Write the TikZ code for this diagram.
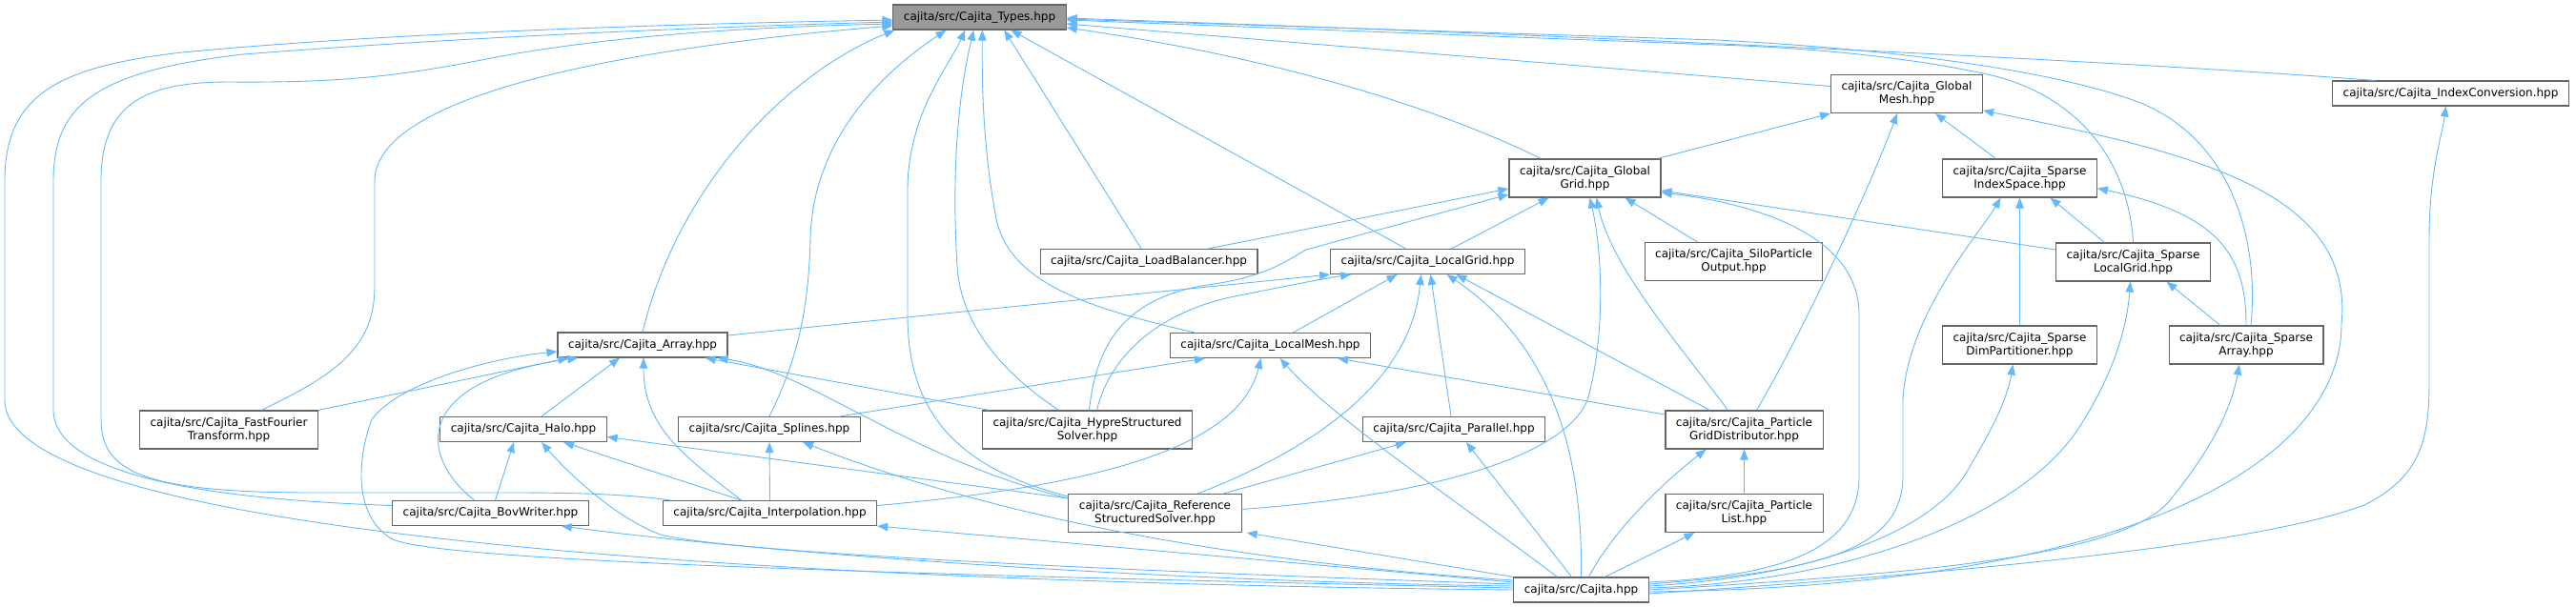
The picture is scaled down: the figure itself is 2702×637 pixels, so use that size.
\documentclass[tikz,border=0pt]{standalone}
\usepackage{fontspec}
\setmainfont{DejaVu Sans}
\usetikzlibrary{arrows.meta}
\definecolor{edgeblue}{HTML}{63B8FF}

\begin{document}
\begin{tikzpicture}[x=1pt, y=-1pt,
  box/.style={draw=black!60, fill=white, line width=1.1pt, font=\fontsize{12}{14}\selectfont,
    inner xsep=11pt, inner ysep=2pt, minimum height=26pt, align=center},
  tbox/.style={box, minimum height=40pt},
  arr/.style={-{Triangle[length=11pt, width=8.5pt]}, draw=edgeblue, line width=0.9pt},
]
  \useasboundingbox (0,0) rectangle (2702,637);

  \node[box, fill=black!40] (types) at (1027.5,18) {cajita/src/Cajita\_Types.hpp};

  \node[tbox] (gmesh) at (2000,98.5) {cajita/src/Cajita\_Global\\Mesh.hpp};
  \node[box] (idxconv) at (2570.5,98) {cajita/src/Cajita\_IndexConversion.hpp};

  \node[tbox] (ggrid) at (1662.5,187) {cajita/src/Cajita\_Global\\Grid.hpp};
  \node[tbox] (spidx) at (2118.5,187) {cajita/src/Cajita\_Sparse\\IndexSpace.hpp};

  \node[box] (lbal) at (1205,274.5) {cajita/src/Cajita\_LoadBalancer.hpp};
  \node[box] (lgrid) at (1497.5,274.5) {cajita/src/Cajita\_LocalGrid.hpp};
  \node[tbox] (silo) at (1818.5,274.5) {cajita/src/Cajita\_SiloParticle\\Output.hpp};
  \node[tbox] (splgrid) at (2237.5,275) {cajita/src/Cajita\_Sparse\\LocalGrid.hpp};

  \node[box] (array) at (674,362) {cajita/src/Cajita\_Array.hpp};
  \node[box] (lmesh) at (1332.5,362.5) {cajita/src/Cajita\_LocalMesh.hpp};
  \node[tbox] (spdim) at (2118.5,362) {cajita/src/Cajita\_Sparse\\DimPartitioner.hpp};
  \node[tbox] (sparray) at (2356,362) {cajita/src/Cajita\_Sparse\\Array.hpp};

  \node[tbox] (fft) at (240,451) {cajita/src/Cajita\_FastFourier\\Transform.hpp};
  \node[box] (halo) at (549,450.5) {cajita/src/Cajita\_Halo.hpp};
  \node[box] (splines) at (807,450.5) {cajita/src/Cajita\_Splines.hpp};
  \node[tbox] (hypre) at (1140.5,451) {cajita/src/Cajita\_HypreStructured\\Solver.hpp};
  \node[box] (parallel) at (1525,450.5) {cajita/src/Cajita\_Parallel.hpp};
  \node[tbox] (pgd) at (1829.5,451) {cajita/src/Cajita\_Particle\\GridDistributor.hpp};

  \node[box] (bov) at (514.5,538.5) {cajita/src/Cajita\_BovWriter.hpp};
  \node[box] (interp) at (807.5,538.5) {cajita/src/Cajita\_Interpolation.hpp};
  \node[tbox] (refsolv) at (1211.5,538.5) {cajita/src/Cajita\_Reference\\StructuredSolver.hpp};
  \node[tbox] (plist) at (1829.5,538.5) {cajita/src/Cajita\_Particle\\List.hpp};

  \node[box] (cajita) at (1658.5,619) {cajita/src/Cajita.hpp};

  \draw[arr] (cajita.west) .. controls (900,612) and (5,570) .. (5,420) -- (5,190) .. controls (5,100) and (60,70) .. (191,55) .. controls (400,35) and (700,25) .. ([yshift=-3]types.west);
  \draw[arr] ([yshift=8]bov.west) .. controls (250,525) and (56,505) .. (56,430) -- (56,190) .. controls (56,110) and (100,75) .. (255,57) .. controls (500,38) and (750,28) .. ([yshift=-5]types.west);
  \draw[arr] ([xshift=8]interp.north west) .. controls (640,516) and (560,517) .. (480,517) -- (320,517) .. controls (150,516) and (106,495) .. (106,440) -- (106,190) .. controls (106,110) and (150,86) .. (240,86) .. controls (360,87) and (420,80) .. (520,60) .. controls (650,36) and (800,28) .. ([yshift=-7]types.west);
  \draw[arr] ([xshift=34]fft.north) .. controls (360,390) and (393,360) .. (393,300) -- (393,190) .. controls (393,110) and (600,55) .. ([yshift=-9]types.west);
  \draw[arr] (array.north) .. controls (710,200) and (820,80) .. ([xshift=2]types.south west);
  \draw[arr] (splines.north) .. controls (835,380) and (848,330) .. (850,250) .. controls (853,130) and (950,60) .. ([xshift=56]types.south west);
  \draw[arr] ([yshift=-3]refsolv.north west) .. controls (1000,490) and (952,430) .. (952,330) -- (952,200) .. controls (952,120) and (995,70) .. ([xshift=76]types.south west);
  \draw[arr] ([xshift=-30]hypre.north) .. controls (1050,390) and (1008,340) .. (1004,280) .. controls (998,180) and (1005,100) .. ([xshift=85]types.south west);
  \draw[arr] ([xshift=26]lmesh.north west) .. controls (1150,325) and (1060,300) .. (1045,230) .. controls (1030,150) and (1030,80) .. ([xshift=94]types.south west);
  \draw[arr] ([xshift=-8]lbal.north) -- ([xshift=117]types.south west);
  \draw[arr] ([xshift=-23]lgrid.north) -- ([xshift=124]types.south west);
  \draw[arr] ([xshift=34]ggrid.north west) .. controls (1480,100) and (1300,55) .. ([yshift=-11]types.east);
  \draw[arr] ([yshift=8]gmesh.west) -- ([yshift=-7]types.east);
  \draw[arr] ([xshift=45]idxconv.north west) .. controls (2200,62) and (1600,35) .. ([yshift=-1]types.east);
  \draw[arr] (splgrid.north) .. controls (2232,160) and (2170,95) .. (2080,77) .. controls (2000,60) and (1900,50) .. (1800,47) -- ([yshift=-3]types.east);
  \draw[arr] ([xshift=5]sparray.north) .. controls (2370,250) and (2340,150) .. (2250,110) .. controls (2190,85) and (2050,55) .. (1800,42) -- ([yshift=-2]types.east);

  \draw[arr] ([xshift=-4]ggrid.north east) -- (gmesh.south west);
  \draw[arr] ([xshift=13]pgd.north) .. controls (1890,350) and (1960,200) .. ([xshift=-10]gmesh.south);
  \draw[arr] ([xshift=-25]spidx.north) -- ([xshift=30]gmesh.south);
  \draw[arr] ([yshift=-2]cajita.east) .. controls (2250,615) and (2456,480) .. (2456,340) .. controls (2470,200) and (2300,160) .. ([yshift=3]gmesh.south east);
  \draw[arr] ([yshift=-4]cajita.east) .. controls (2200,592) and (2400,560) .. (2480,530) .. controls (2540,500) and (2548,460) .. (2548,400) -- (2548,250) .. controls (2548,180) and (2562,140) .. ([xshift=-5]idxconv.south);

  \draw[arr] ([xshift=-30]splgrid.north) -- ([xshift=32]spidx.south);
  \draw[arr] (spdim.north) -- (spidx.south);
  \draw[arr] (sparray.north) .. controls (2356,270) and (2330,225) .. ([yshift=10]spidx.south east);
  \draw[arr] ([yshift=6]cajita.east) .. controls (1900,600) and (1996,580) .. (1996,500) -- (1996,420) .. controls (2000,330) and (2080,240) .. ([xshift=-20]spidx.south);
  \draw[arr] ([xshift=-27]sparray.north) -- ([xshift=35]splgrid.south);
  \draw[arr] ([yshift=2]cajita.east) .. controls (1950,610) and (2120,540) .. (2180,450) .. controls (2225,380) and (2232,330) .. ([xshift=-3]splgrid.south);
  \draw[arr] ([yshift=4]cajita.east) .. controls (1900,605) and (2020,560) .. (2060,500) .. controls (2090,450) and (2105,420) .. ([xshift=-7]spdim.south);
  \draw[arr] (cajita.east) .. controls (2050,600) and (2240,580) .. (2280,520) .. controls (2320,470) and (2340,430) .. ([xshift=-7]sparray.south);

  \draw[arr] ([yshift=13]splgrid.west) -- ([yshift=-13]ggrid.east);
  \draw[arr] ([xshift=-52]lbal.north east) -- ([yshift=-11]ggrid.west);
  \draw[arr] ([xshift=2]hypre.north) .. controls (1150,360) and (1180,315) .. (1260,300) .. controls (1320,292) and (1340,280) .. (1370,262) -- ([yshift=-17]ggrid.west);
  \draw[arr] ([xshift=25]lgrid.north) -- ([xshift=-38]ggrid.south);
  \draw[arr] ([xshift=-38]silo.north) -- ([xshift=42]ggrid.south);
  \draw[arr] ([yshift=8]cajita.east) .. controls (1850,605) and (1950,585) .. (1950,500) -- (1950,330) .. controls (1950,250) and (1850,215) .. ([yshift=-15]ggrid.east);
  \draw[arr] ([yshift=4]refsolv.east) .. controls (1500,520) and (1640,480) .. (1665,420) .. controls (1685,350) and (1680,260) .. ([xshift=5]ggrid.south);
  \draw[arr] ([xshift=-17]pgd.north) .. controls (1760,360) and (1690,280) .. ([xshift=12]ggrid.south);

  \draw[arr] ([yshift=10]array.east) -- (lgrid.south west);
  \draw[arr] ([xshift=10]hypre.north) .. controls (1165,370) and (1220,325) .. (1300,310) .. controls (1350,300) and (1390,292) .. ([xshift=22]lgrid.south west);
  \draw[arr] ([xshift=24]lmesh.north) -- ([xshift=-32]lgrid.south);
  \draw[arr] ([xshift=-3]parallel.north) -- ([xshift=3]lgrid.south);
  \draw[arr] ([xshift=45]refsolv.north) .. controls (1380,470) and (1480,400) .. ([xshift=-7]lgrid.south);
  \draw[arr] (cajita.north) .. controls (1660,500) and (1640,370) .. ([xshift=20]lgrid.south);
  \draw[arr] ([xshift=-36]pgd.north) -- ([xshift=30]lgrid.south);

  \draw[arr] ([xshift=-22]splines.north east) -- ([xshift=37]lmesh.south west);
  \draw[arr] ([yshift=8]interp.east) .. controls (1150,510) and (1300,470) .. ([xshift=-10]lmesh.south);
  \draw[arr] ([xshift=-25]cajita.north) .. controls (1520,520) and (1400,440) .. ([xshift=10]lmesh.south);
  \draw[arr] ([yshift=16]pgd.west) -- ([xshift=-35]lmesh.south east);

  \draw[arr] (fft.north east) -- ([xshift=12]array.south west);
  \draw[arr] ([xshift=19]halo.north) -- ([xshift=-24]array.south);
  \draw[arr] ([xshift=-30]interp.north) .. controls (720,480) and (675,450) .. ([xshift=1]array.south);
  \draw[arr] ([xshift=-17]bov.north) .. controls (440,480) and (430,400) .. ([xshift=22]array.south west);
  \draw[arr] ([yshift=2]cajita.west) .. controls (900,602) and (450,588) .. (410,565) .. controls (370,540) and (375,480) .. (390,440) .. controls (420,400) and (520,375) .. ([yshift=-7]array.west);
  \draw[arr] ([xshift=8]hypre.north west) -- ([xshift=-24]array.south east);
  \draw[arr] ([yshift=-5]refsolv.north west) .. controls (950,480) and (850,390) .. ([xshift=-11]array.south east);

  \draw[arr] ([xshift=5]bov.north) -- ([xshift=-10]halo.south);
  \draw[arr] ([xshift=-30]interp.north) -- ([xshift=42]halo.south);
  \draw[arr] ([yshift=-5]refsolv.north west) -- ([yshift=-8]halo.east);
  \draw[arr] ([yshift=6]cajita.west) .. controls (1200,600) and (750,580) .. (690,560) .. controls (640,540) and (590,490) .. ([xshift=19]halo.south);

  \draw[arr] (interp.north) -- (splines.south);
  \draw[arr] ([yshift=10]cajita.west) .. controls (1300,590) and (1050,545) .. ([xshift=35]splines.south);
  \draw[arr] ([yshift=8]cajita.west) -- (interp.south east);
  \draw[arr] ([yshift=4]cajita.west) .. controls (1200,610) and (800,580) .. ([xshift=-29]bov.south east);
  \draw[arr] (cajita.north west) -- ([xshift=5]refsolv.south east);

  \draw[arr] ([xshift=72]refsolv.north) -- ([xshift=-50]parallel.south);
  \draw[arr] ([xshift=-10]cajita.north) -- ([xshift=13]parallel.south);
  \draw[arr] (plist.north) -- (pgd.south);
  \draw[arr] ([xshift=8]cajita.north) .. controls (1690,560) and (1740,510) .. ([xshift=-40]pgd.south);
  \draw[arr] ([xshift=25]cajita.north) -- ([xshift=-52]plist.south);
\end{tikzpicture}
\end{document}
